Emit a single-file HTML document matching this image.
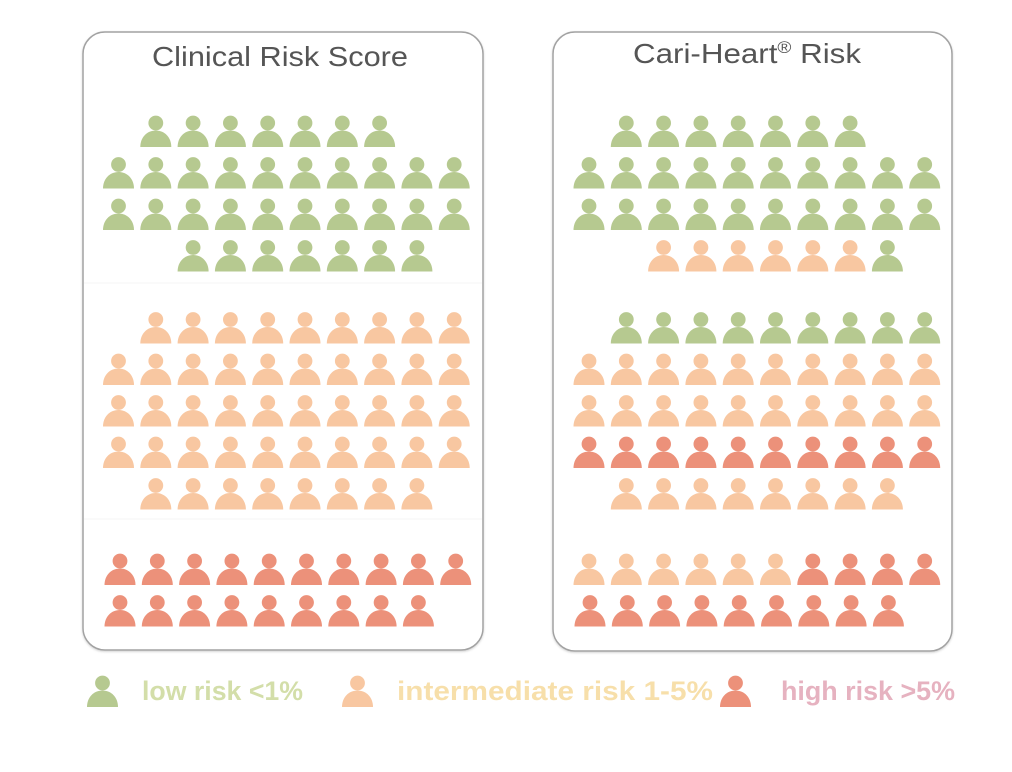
<!DOCTYPE html>
<html>
<head>
<meta charset="utf-8">
<style>
  html,body{margin:0;padding:0;background:#ffffff;}
  body{width:1012px;height:772px;overflow:hidden;}
  svg{display:block;}
  .title{font-family:"Liberation Sans",Arial,sans-serif;font-size:28px;fill:#555555;}
  .leg{font-family:"Liberation Sans",Arial,sans-serif;font-size:26.5px;font-weight:bold;}
</style>
</head>
<body>
<svg width="1012" height="772" viewBox="0 0 1012 772" xmlns="http://www.w3.org/2000/svg">
  <defs>
    <g id="p">
      <circle cx="15.5" cy="-24" r="7.4"/>
      <path d="M0,0 C0,-9.5 6.5,-16.5 15.5,-16.5 C24.5,-16.5 31,-9.5 31,0 Z"/>
    </g>
    <filter id="sh" x="-5%" y="-5%" width="110%" height="110%">
      <feDropShadow dx="0" dy="1" stdDeviation="1" flood-color="#000" flood-opacity="0.18"/>
    </filter>
  </defs>

  <!-- panels -->
  <rect x="83" y="32" width="400" height="618" rx="22" ry="22" fill="#fff" stroke="#a2a2a2" stroke-width="1.5" filter="url(#sh)"/>
  <rect x="553" y="32" width="399" height="619" rx="22" ry="22" fill="#fff" stroke="#a2a2a2" stroke-width="1.5" filter="url(#sh)"/>

  <!-- faint separators -->
  <line x1="84" y1="283" x2="482" y2="283" stroke="#f6f6f6" stroke-width="1"/>
  <line x1="84" y1="519" x2="482" y2="519" stroke="#f6f6f6" stroke-width="1"/>

  <!-- titles -->
  <text class="title" x="152" y="66" textLength="256" lengthAdjust="spacingAndGlyphs">Clinical Risk Score</text>
  <text class="title" x="633" y="63" textLength="228" lengthAdjust="spacingAndGlyphs">Cari-Heart<tspan font-size="17" dy="-10">®</tspan><tspan dy="10"> Risk</tspan></text>

  <!-- LEFT PANEL -->
  <g transform="translate(103,0)">
    <g fill="#b6c990" transform="translate(0,147)">
      <use href="#p" x="37.3"/><use href="#p" x="74.6"/><use href="#p" x="111.9"/><use href="#p" x="149.2"/><use href="#p" x="186.5"/><use href="#p" x="223.8"/><use href="#p" x="261.1"/>
    </g>
    <g fill="#b6c990" transform="translate(0,188.5)">
      <use href="#p" x="0"/><use href="#p" x="37.3"/><use href="#p" x="74.6"/><use href="#p" x="111.9"/><use href="#p" x="149.2"/><use href="#p" x="186.5"/><use href="#p" x="223.8"/><use href="#p" x="261.1"/><use href="#p" x="298.4"/><use href="#p" x="335.7"/>
    </g>
    <g fill="#b6c990" transform="translate(0,230)">
      <use href="#p" x="0"/><use href="#p" x="37.3"/><use href="#p" x="74.6"/><use href="#p" x="111.9"/><use href="#p" x="149.2"/><use href="#p" x="186.5"/><use href="#p" x="223.8"/><use href="#p" x="261.1"/><use href="#p" x="298.4"/><use href="#p" x="335.7"/>
    </g>
    <g fill="#b6c990" transform="translate(0,271.5)">
      <use href="#p" x="74.6"/><use href="#p" x="111.9"/><use href="#p" x="149.2"/><use href="#p" x="186.5"/><use href="#p" x="223.8"/><use href="#p" x="261.1"/><use href="#p" x="298.4"/>
    </g>
    <g fill="#f8c7a1" transform="translate(0,343.5)">
      <use href="#p" x="37.3"/><use href="#p" x="74.6"/><use href="#p" x="111.9"/><use href="#p" x="149.2"/><use href="#p" x="186.5"/><use href="#p" x="223.8"/><use href="#p" x="261.1"/><use href="#p" x="298.4"/><use href="#p" x="335.7"/>
    </g>
    <g fill="#f8c7a1" transform="translate(0,385)">
      <use href="#p" x="0"/><use href="#p" x="37.3"/><use href="#p" x="74.6"/><use href="#p" x="111.9"/><use href="#p" x="149.2"/><use href="#p" x="186.5"/><use href="#p" x="223.8"/><use href="#p" x="261.1"/><use href="#p" x="298.4"/><use href="#p" x="335.7"/>
    </g>
    <g fill="#f8c7a1" transform="translate(0,426.5)">
      <use href="#p" x="0"/><use href="#p" x="37.3"/><use href="#p" x="74.6"/><use href="#p" x="111.9"/><use href="#p" x="149.2"/><use href="#p" x="186.5"/><use href="#p" x="223.8"/><use href="#p" x="261.1"/><use href="#p" x="298.4"/><use href="#p" x="335.7"/>
    </g>
    <g fill="#f8c7a1" transform="translate(0,468)">
      <use href="#p" x="0"/><use href="#p" x="37.3"/><use href="#p" x="74.6"/><use href="#p" x="111.9"/><use href="#p" x="149.2"/><use href="#p" x="186.5"/><use href="#p" x="223.8"/><use href="#p" x="261.1"/><use href="#p" x="298.4"/><use href="#p" x="335.7"/>
    </g>
    <g fill="#f8c7a1" transform="translate(0,509.5)">
      <use href="#p" x="37.3"/><use href="#p" x="74.6"/><use href="#p" x="111.9"/><use href="#p" x="149.2"/><use href="#p" x="186.5"/><use href="#p" x="223.8"/><use href="#p" x="261.1"/><use href="#p" x="298.4"/>
    </g>
    <g fill="#ec917a" transform="translate(1.5,585)">
      <use href="#p" x="0"/><use href="#p" x="37.3"/><use href="#p" x="74.6"/><use href="#p" x="111.9"/><use href="#p" x="149.2"/><use href="#p" x="186.5"/><use href="#p" x="223.8"/><use href="#p" x="261.1"/><use href="#p" x="298.4"/><use href="#p" x="335.7"/>
    </g>
    <g fill="#ec917a" transform="translate(1.5,626.5)">
      <use href="#p" x="0"/><use href="#p" x="37.3"/><use href="#p" x="74.6"/><use href="#p" x="111.9"/><use href="#p" x="149.2"/><use href="#p" x="186.5"/><use href="#p" x="223.8"/><use href="#p" x="261.1"/><use href="#p" x="298.4"/>
    </g>
  </g>

  <!-- RIGHT PANEL -->
  <g transform="translate(573.5,0)">
    <g fill="#b6c990" transform="translate(0,147)">
      <use href="#p" x="37.3"/><use href="#p" x="74.6"/><use href="#p" x="111.9"/><use href="#p" x="149.2"/><use href="#p" x="186.5"/><use href="#p" x="223.8"/><use href="#p" x="261.1"/>
    </g>
    <g fill="#b6c990" transform="translate(0,188.5)">
      <use href="#p" x="0"/><use href="#p" x="37.3"/><use href="#p" x="74.6"/><use href="#p" x="111.9"/><use href="#p" x="149.2"/><use href="#p" x="186.5"/><use href="#p" x="223.8"/><use href="#p" x="261.1"/><use href="#p" x="298.4"/><use href="#p" x="335.7"/>
    </g>
    <g fill="#b6c990" transform="translate(0,230)">
      <use href="#p" x="0"/><use href="#p" x="37.3"/><use href="#p" x="74.6"/><use href="#p" x="111.9"/><use href="#p" x="149.2"/><use href="#p" x="186.5"/><use href="#p" x="223.8"/><use href="#p" x="261.1"/><use href="#p" x="298.4"/><use href="#p" x="335.7"/>
    </g>
    <g transform="translate(0,271.5)">
      <g fill="#f8c7a1"><use href="#p" x="74.6"/><use href="#p" x="111.9"/><use href="#p" x="149.2"/><use href="#p" x="186.5"/><use href="#p" x="223.8"/><use href="#p" x="261.1"/></g>
      <g fill="#b6c990"><use href="#p" x="298.4"/></g>
    </g>
    <g fill="#b6c990" transform="translate(0,343.5)">
      <use href="#p" x="37.3"/><use href="#p" x="74.6"/><use href="#p" x="111.9"/><use href="#p" x="149.2"/><use href="#p" x="186.5"/><use href="#p" x="223.8"/><use href="#p" x="261.1"/><use href="#p" x="298.4"/><use href="#p" x="335.7"/>
    </g>
    <g fill="#f8c7a1" transform="translate(0,385)">
      <use href="#p" x="0"/><use href="#p" x="37.3"/><use href="#p" x="74.6"/><use href="#p" x="111.9"/><use href="#p" x="149.2"/><use href="#p" x="186.5"/><use href="#p" x="223.8"/><use href="#p" x="261.1"/><use href="#p" x="298.4"/><use href="#p" x="335.7"/>
    </g>
    <g fill="#f8c7a1" transform="translate(0,426.5)">
      <use href="#p" x="0"/><use href="#p" x="37.3"/><use href="#p" x="74.6"/><use href="#p" x="111.9"/><use href="#p" x="149.2"/><use href="#p" x="186.5"/><use href="#p" x="223.8"/><use href="#p" x="261.1"/><use href="#p" x="298.4"/><use href="#p" x="335.7"/>
    </g>
    <g fill="#ec917a" transform="translate(0,468)">
      <use href="#p" x="0"/><use href="#p" x="37.3"/><use href="#p" x="74.6"/><use href="#p" x="111.9"/><use href="#p" x="149.2"/><use href="#p" x="186.5"/><use href="#p" x="223.8"/><use href="#p" x="261.1"/><use href="#p" x="298.4"/><use href="#p" x="335.7"/>
    </g>
    <g fill="#f8c7a1" transform="translate(0,509.5)">
      <use href="#p" x="37.3"/><use href="#p" x="74.6"/><use href="#p" x="111.9"/><use href="#p" x="149.2"/><use href="#p" x="186.5"/><use href="#p" x="223.8"/><use href="#p" x="261.1"/><use href="#p" x="298.4"/>
    </g>
    <g transform="translate(0,585)">
      <g fill="#f8c7a1"><use href="#p" x="0"/><use href="#p" x="37.3"/><use href="#p" x="74.6"/><use href="#p" x="111.9"/><use href="#p" x="149.2"/><use href="#p" x="186.5"/></g>
      <g fill="#ec917a"><use href="#p" x="223.8"/><use href="#p" x="261.1"/><use href="#p" x="298.4"/><use href="#p" x="335.7"/></g>
    </g>
    <g fill="#ec917a" transform="translate(1,626.5)">
      <use href="#p" x="0"/><use href="#p" x="37.3"/><use href="#p" x="74.6"/><use href="#p" x="111.9"/><use href="#p" x="149.2"/><use href="#p" x="186.5"/><use href="#p" x="223.8"/><use href="#p" x="261.1"/><use href="#p" x="298.4"/>
    </g>
  </g>

  <!-- LEGEND -->
  <use href="#p" x="87" y="707" fill="#b6c990"/>
  <text class="leg" x="142" y="700" fill="#d3dea9" textLength="161" lengthAdjust="spacingAndGlyphs">low risk &lt;1%</text>
  <use href="#p" x="342" y="707" fill="#f8c7a1"/>
  <text class="leg" x="397" y="700" fill="#f7dfaa" textLength="316" lengthAdjust="spacingAndGlyphs">intermediate risk 1-5%</text>
  <use href="#p" x="720" y="707" fill="#ec917a"/>
  <text class="leg" x="781" y="700" fill="#e6b2c0" textLength="174" lengthAdjust="spacingAndGlyphs">high risk &gt;5%</text>
</svg>
</body>
</html>
